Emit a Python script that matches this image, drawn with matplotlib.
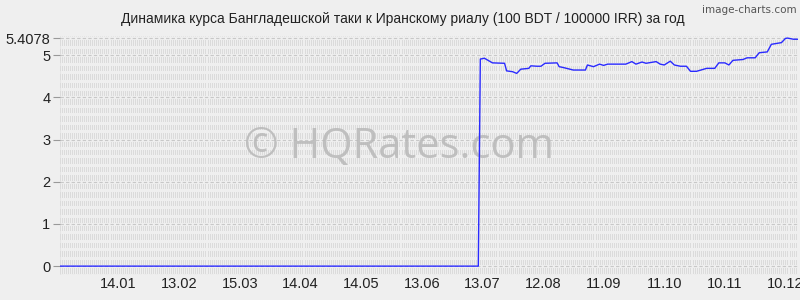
import matplotlib
matplotlib.use("Agg")
import matplotlib.pyplot as plt
import numpy as np

plt.rcParams['font.family'] = ['Liberation Sans', 'DejaVu Sans']

BG = '#efefef'

# day offsets and rate values (100 BDT / 100000 IRR)
days = [0, 207, 208, 210, 214, 220, 221, 224, 226, 228, 232, 233, 236, 238, 240,
        246, 247, 249, 254, 260, 261, 264, 267, 269, 271, 280, 283, 285, 288, 290,
        295, 297, 299, 302, 304, 307, 310, 312, 315, 320, 324, 326, 329, 331, 333,
        338, 340, 344, 346, 350, 352, 357, 359, 360, 363, 365]
rate = [0, 0, 4.91, 4.93, 4.82, 4.81, 4.63, 4.61, 4.57, 4.67, 4.69, 4.75, 4.74, 4.74, 4.81,
        4.82, 4.73, 4.71, 4.65, 4.65, 4.77, 4.73, 4.79, 4.76, 4.79, 4.79, 4.85, 4.79, 4.84, 4.81,
        4.85, 4.79, 4.77, 4.86, 4.77, 4.74, 4.74, 4.62, 4.62, 4.69, 4.69, 4.82, 4.82, 4.77, 4.88,
        4.90, 4.94, 4.94, 5.06, 5.08, 5.26, 5.30, 5.40, 5.4078, 5.38, 5.38]

tick_days = [29, 59, 89, 119, 149, 179, 209, 239, 269, 299, 329, 359]
tick_labels = ['14.01', '13.02', '15.03', '14.04', '14.05', '13.06',
               '13.07', '12.08', '11.09', '11.10', '10.11', '10.12']
y_ticks = [0, 1, 2, 3, 4, 5, 5.4078]
y_labels = ['0', '1', '2', '3', '4', '5', '5.4078']

fig = plt.figure(figsize=(8, 3), dpi=100, facecolor=BG)
ax = fig.add_axes([0.075, 0.082, 0.922, 0.797])
ax.set_facecolor(BG)

ymin, ymax = -0.22, 5.45
ax.set_xlim(0, 365)
ax.set_ylim(ymin, ymax)

# dense striped grid texture
ax.vlines(np.arange(0, 366), ymin, ymax, color='#d8d8d8', lw=0.6, zorder=0)
ax.hlines(np.arange(-0.2, 5.5, 0.2), 0, 365, color=BG, lw=2.2, zorder=0.5)
ax.hlines([-0.2] + y_ticks, 0, 365, color='#c8c8c8', lw=0.8,
          linestyles=(0, (3, 2)), zorder=0.6)

ax.plot(days, rate, color='#2a2aff', lw=1.0, zorder=3)

ax.set_xticks(tick_days)
ax.set_xticklabels(tick_labels)
ax.set_yticks(y_ticks)
ax.set_yticklabels(y_labels)
ax.tick_params(axis='x', length=0, pad=1, labelsize=10.5, colors='#222222')
ax.tick_params(axis='y', length=5, width=0.8, color='#999999', pad=2,
               labelsize=10.5, labelcolor='#222222')
for s in ax.spines.values():
    s.set_visible(False)

fig.text(0.503, 0.935, 'Динамика курса Бангладешской таки к Иранскому риалу (100 BDT / 100000 IRR) за год',
         ha='center', va='center', fontsize=10, color='#222222')
fig.text(0.996, 0.968, 'image-charts.com', ha='right', va='center',
         fontsize=7.5, color='#555555', family='DejaVu Sans')
ax.text(0.46, 0.535, '© HQRates.com', transform=ax.transAxes, ha='center', va='center',
        fontsize=30, color='#b8b8b8', alpha=0.85, family=['Open Sans', 'DejaVu Sans'], zorder=2)

fig.savefig('out.png', dpi=100, facecolor=BG)
